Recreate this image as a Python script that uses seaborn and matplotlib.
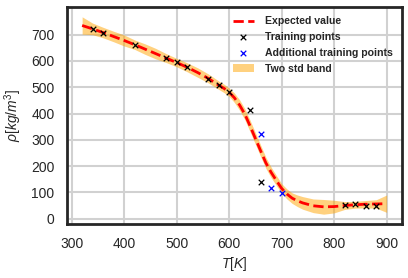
import numpy as np
import matplotlib
matplotlib.use("Agg")
import matplotlib.pyplot as plt
import seaborn as sns

# ---------------------------------------------------------------------------
# Data
# ---------------------------------------------------------------------------

# posterior mean and two-std half width on a temperature grid
grid_T = [320, 340, 360, 380, 400, 420, 440, 460, 480, 500, 520, 540, 560,
          580, 590, 600, 610, 620, 630, 640, 650, 660, 670, 680, 690, 700,
          710, 720, 730, 740, 760, 780, 800, 820, 840, 860, 880, 900]
mean_rho = [735, 722, 708, 693, 678, 662, 645, 628, 611, 594, 576, 556, 534,
            508, 496, 481, 460, 432, 397, 352, 305, 258, 212, 176, 145, 115,
            94, 78, 68, 60, 49, 45, 46, 50, 53, 55, 56, 57]
two_std = [33, 22, 20, 20, 21, 18, 20, 20, 17, 16, 17, 18, 17,
           16, 16, 16, 18, 20, 21, 22, 22, 22, 21, 20, 19, 18,
           19, 20, 22, 24, 26, 28, 24, 15, 13, 14, 16, 33]

train_T = [340, 360, 420, 480, 500, 520, 560, 580, 600, 640, 660,
           820, 840, 860, 880]
train_rho = [722, 706, 660, 610, 595, 576, 533, 510, 483, 415, 140,
             53, 54, 50, 50]

extra_T = [660, 680, 700]
extra_rho = [322, 118, 96]


def main():
    sns.set_style("whitegrid", {"axes.edgecolor": ".15",
                                "grid.color": ".82"})
    # Arial-like look, also inside math text
    plt.rcParams["font.family"] = ["Liberation Sans", "DejaVu Sans"]
    plt.rcParams["mathtext.fontset"] = "custom"
    plt.rcParams["mathtext.rm"] = "Liberation Sans"
    plt.rcParams["mathtext.it"] = "Liberation Sans:italic"

    fig, ax = plt.subplots(figsize=(4.08, 2.78), dpi=100)
    fig.subplots_adjust(left=0.164, right=0.985, top=0.975, bottom=0.194)

    T = np.array(grid_T, dtype=float)
    mu = np.array(mean_rho, dtype=float)
    sd = np.array(two_std, dtype=float)

    sns.lineplot(x=grid_T, y=mean_rho, ax=ax, color="red", lw=2,
                 linestyle="--", label="Expected value", zorder=3)
    sns.scatterplot(x=train_T, y=train_rho, ax=ax, marker="x", color="black",
                    s=16, linewidth=0.9, label="Training points", zorder=4)
    sns.scatterplot(x=extra_T, y=extra_rho, ax=ax, marker="x", color="blue",
                    s=16, linewidth=0.9, label="Additional training points",
                    zorder=4)
    ax.fill_between(T, mu - sd, mu + sd, color="orange", alpha=0.5,
                    lw=0, label="Two std band", zorder=2)

    for side in ax.spines.values():
        side.set_linewidth(2)
    ax.grid(True, lw=1.5)

    ax.set_xticks([300, 400, 500, 600, 700, 800, 900])
    ax.set_yticks([0, 100, 200, 300, 400, 500, 600, 700])
    ax.tick_params(labelsize=10, length=0, pad=9)
    ax.set_xlabel(r"$T[K]$", fontsize=10, labelpad=3)
    ax.set_ylabel(r"$\rho[kg/m^3]$", fontsize=10, labelpad=5)

    handles, labels = ax.get_legend_handles_labels()
    order = ["Expected value", "Training points",
             "Additional training points", "Two std band"]
    hl = dict(zip(labels, handles))
    ax.legend([hl[k] for k in order], order, loc="upper right",
              frameon=False, prop={"family": "Liberation Sans", "size": 7.6,
                                   "weight": "bold"},
              borderaxespad=0.5, handlelength=2.0, labelspacing=0.55,
              handletextpad=1.0)

    fig.savefig("out.png", dpi=100)


if __name__ == "__main__":
    main()
